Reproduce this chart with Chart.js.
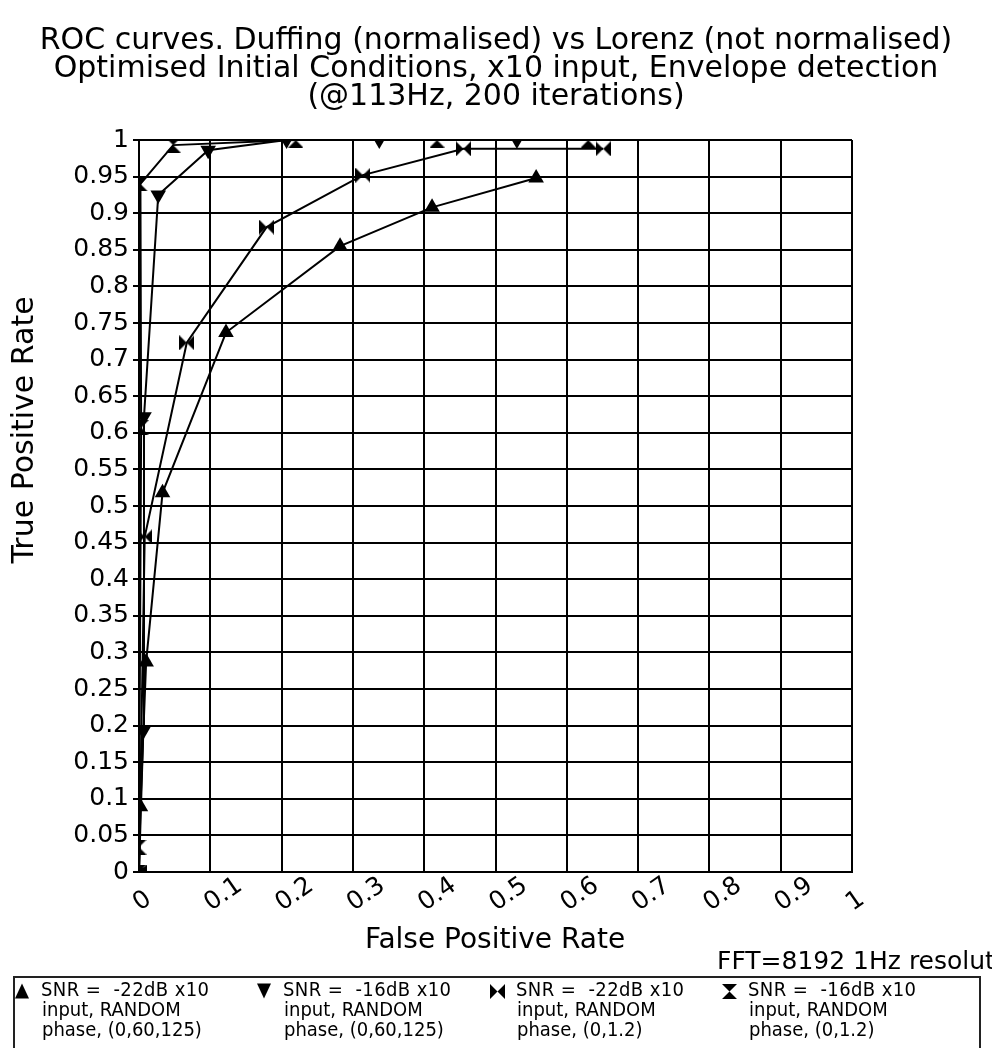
<!DOCTYPE html>
<html>
<head>
<meta charset="utf-8">
<script src="https://cdn.jsdelivr.net/npm/chart.js@4.4.1/dist/chart.umd.min.js"></script>
<style>
  html, body { margin: 0; padding: 0; background: #fff; }
  #wrap { width: 992px; height: 1048px; position: relative; }
</style>
</head>
<body>
<div id="wrap"><canvas id="roc" width="992" height="1048"></canvas></div>
<script>
// ---- data ----
const titleLines = [
  'ROC curves. Duffing (normalised) vs Lorenz (not normalised)',
  'Optimised Initial Conditions, x10 input, Envelope detection',
  '(@113Hz, 200 iterations)'
];
const xAxisTitle = 'False Positive Rate';
const yAxisTitle = 'True Positive Rate';
const footNote = 'FFT=8192 1Hz resolution';
const xTickValues = [0, 0.1, 0.2, 0.3, 0.4, 0.5, 0.6, 0.7, 0.8, 0.9, 1];

// -22dB, (0,60,125)
const fprA = [0, 0.002, 0.010, 0.033, 0.122, 0.282, 0.411, 0.557];
const tprA = [0, 0.089, 0.287, 0.518, 0.737, 0.855, 0.908, 0.948];
// -16dB, (0,60,125)
const fprB = [0, 0.006, 0.007, 0.027, 0.097, 0.207, 0.337, 0.530];
const tprB = [0, 0.193, 0.622, 0.925, 0.986, 1.000, 1.000, 1.000];
// -22dB, (0,1.2)
const fprC = [0, 0.008, 0.067, 0.179, 0.314, 0.455, 0.651];
const tprC = [0, 0.458, 0.723, 0.881, 0.952, 0.988, 0.988];
// -16dB, (0,1.2)
const fprD = [0, 0.000, 0.003, 0.002, 0.048, 0.220, 0.418, 0.630];
const tprD = [0, 0.034, 0.607, 0.940, 0.993, 1.000, 1.000, 1.000];

const legendLines = [
  ['SNR =  -22dB x10', 'input, RANDOM', 'phase, (0,60,125)'],
  ['SNR =  -16dB x10', 'input, RANDOM', 'phase, (0,60,125)'],
  ['SNR =  -22dB x10', 'input, RANDOM', 'phase, (0,1.2)'],
  ['SNR =  -16dB x10', 'input, RANDOM', 'phase, (0,1.2)']
];

// ---- marker glyphs ----
function makeBowtie(w, h, vertical) {
  const c = document.createElement('canvas');
  c.width = w; c.height = h;
  const g = c.getContext('2d');
  g.fillStyle = '#000';
  g.beginPath();
  if (vertical) {
    g.moveTo(0, 0); g.lineTo(w, 0); g.lineTo(w / 2, h / 2); g.closePath();
    g.moveTo(0, h); g.lineTo(w, h); g.lineTo(w / 2, h / 2); g.closePath();
  } else {
    g.moveTo(0, 0); g.lineTo(w / 2, h / 2); g.lineTo(0, h); g.closePath();
    g.moveTo(w, 0); g.lineTo(w / 2, h / 2); g.lineTo(w, h); g.closePath();
  }
  g.fill();
  return c;
}
const bowtie = makeBowtie(15, 15, false);
const hourglass = makeBowtie(15, 15, true);

function pts(xs, ys) { return xs.map((x, i) => ({ x: x, y: ys[i] })); }

const baseDs = {
  borderColor: '#000', backgroundColor: '#000', borderWidth: 2,
  pointRadius: 9, pointHoverRadius: 9, showLine: true, tension: 0,
  pointBorderWidth: 0, fill: false
};

const datasets = [
  Object.assign({}, baseDs, { label: legendLines[0].join(' '), data: pts(fprA, tprA), pointStyle: 'triangle' }),
  Object.assign({}, baseDs, { label: legendLines[1].join(' '), data: pts(fprB, tprB), pointStyle: 'triangle', pointRotation: 180 }),
  Object.assign({}, baseDs, { label: legendLines[2].join(' '), data: pts(fprC, tprC), pointStyle: bowtie }),
  Object.assign({}, baseDs, { label: legendLines[3].join(' '), data: pts(fprD, tprD), pointStyle: hourglass })
];

// ---- text drawn around the plot ----
function drawTri(ctx, cx, cy, down) {
  const w = 14, h = 15;
  ctx.beginPath();
  if (down) {
    ctx.moveTo(cx - w / 2, cy - h / 2); ctx.lineTo(cx + w / 2, cy - h / 2); ctx.lineTo(cx, cy + h / 2);
  } else {
    ctx.moveTo(cx - w / 2, cy + h / 2); ctx.lineTo(cx + w / 2, cy + h / 2); ctx.lineTo(cx, cy - h / 2);
  }
  ctx.closePath();
  ctx.fill();
}

const decorations = {
  id: 'decorations',
  afterDraw(chart) {
    const ctx = chart.ctx;
    const xs = chart.scales.x;
    const area = chart.chartArea;
    ctx.save();
    ctx.fillStyle = '#000';

    // title
    ctx.font = '30px "DejaVu Sans"';
    ctx.textAlign = 'center';
    ctx.textBaseline = 'middle';
    titleLines.forEach((t, i) => ctx.fillText(t, 496, 41 + i * 28));

    // rotated x tick labels
    ctx.font = '25px "DejaVu Sans"';
    ctx.textAlign = 'left';
    ctx.textBaseline = 'middle';
    xTickValues.forEach(v => {
      const px = xs.getPixelForValue(v);
      ctx.save();
      ctx.translate(px - 3, area.bottom + 34);
      ctx.rotate(-35 * Math.PI / 180);
      ctx.fillText(String(v), 0, 0);
      ctx.restore();
    });

    // axis titles
    ctx.textAlign = 'center';
    ctx.font = '28px "DejaVu Sans"';
    ctx.fillText(xAxisTitle, 495, 941);
    ctx.save();
    ctx.translate(25, 430);
    ctx.rotate(-Math.PI / 2);
    ctx.font = '30px "DejaVu Sans"';
    ctx.fillText(yAxisTitle, 0, 0);
    ctx.restore();

    // footnote
    ctx.font = '25px "DejaVu Sans"';
    ctx.textAlign = 'left';
    ctx.fillText(footNote, 717, 962);

    // legend box
    ctx.strokeStyle = '#222';
    ctx.lineWidth = 2;
    ctx.strokeRect(14, 977, 966, 90);

    const entryX = [15, 257, 490, 722];
    ctx.font = '20px "DejaVu Sans Condensed", "DejaVu Sans"';
    ctx.textBaseline = 'middle';
    legendLines.forEach((lines, i) => {
      const mx = entryX[i] + 7, my = 991;
      if (i === 0) drawTri(ctx, mx, my, false);
      else if (i === 1) drawTri(ctx, mx, my, true);
      else ctx.drawImage(i === 2 ? bowtie : hourglass, mx - 7, my - 7);
      const tx = entryX[i] + 26;
      ctx.letterSpacing = '0.4px';
      ctx.fillText(lines[0], tx, 991);
      ctx.letterSpacing = '0px';
      ctx.fillText(lines[1], tx + 1, 1011);
      ctx.fillText(lines[2], tx + 1, 1031);
    });
    ctx.restore();
  }
};

new Chart(document.getElementById('roc'), {
  type: 'scatter',
  data: { datasets: datasets },
  plugins: [decorations],
  options: {
    responsive: false,
    animation: false,
    layout: { padding: { left: 0, right: 140, top: 140, bottom: 0 } },
    plugins: {
      legend: { display: false },
      tooltip: { enabled: false },
      title: { display: false }
    },
    scales: {
      x: {
        type: 'linear', min: 0, max: 1,
        ticks: { display: false, stepSize: 0.1 },
        grid: { color: '#000', lineWidth: 2, drawTicks: false },
        border: { color: '#000', width: 2 },
        afterFit(scale) { scale.height = 176; }
      },
      y: {
        type: 'linear', min: 0, max: 1,
        ticks: {
          stepSize: 0.05, color: '#000', padding: 4,
          font: { family: 'DejaVu Sans', size: 25 },
          callback: v => String(Number(v.toFixed(2)))
        },
        grid: { color: '#000', lineWidth: 2, tickLength: 6 },
        border: { color: '#000', width: 2 },
        afterFit(scale) { scale.width = 139; }
      }
    }
  }
});
</script>
</body>
</html>
